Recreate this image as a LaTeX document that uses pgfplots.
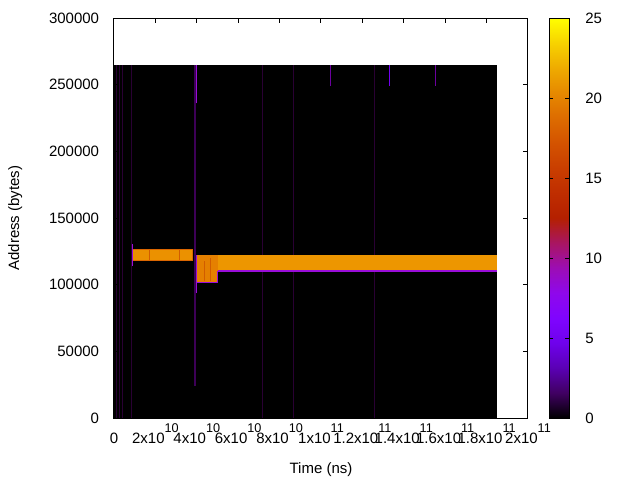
\documentclass[border=0pt]{standalone}
\usepackage{pgfplots}
\pgfplotsset{compat=1.18}
\usepackage{fontspec}
\setmainfont{Liberation Sans}
\pgfplotsset{
  /pgf/number format/assume math mode=true,
  colormap={gp}{
    rgb=(0,0,0) rgb=(0.25,0.0002,0.383) rgb=(0.354,0.002,0.707) rgb=(0.433,0.0066,0.924)
    rgb=(0.5,0.0156,1) rgb=(0.559,0.0305,0.924) rgb=(0.612,0.0527,0.707) rgb=(0.661,0.0837,0.383)
    rgb=(0.707,0.125,0) rgb=(0.75,0.178,0) rgb=(0.79,0.244,0) rgb=(0.829,0.325,0)
    rgb=(0.866,0.422,0) rgb=(0.901,0.536,0) rgb=(0.935,0.67,0) rgb=(0.968,0.824,0) rgb=(1,1,0)
  }
}
\definecolor{dimp}{rgb}{0.16,0,0.2}
\definecolor{midp}{rgb}{0.24,0,0.34}
\definecolor{topp}{rgb}{0.42,0,0.62}
\definecolor{brightp}{rgb}{0.6,0.05,0.85}
\definecolor{bluep}{rgb}{0.45,0,0.95}
\definecolor{bandA}{rgb}{0.92,0.57,0.0}
\definecolor{bandAedge}{rgb}{0.86,0.4,0.0}
\definecolor{bandB}{rgb}{0.93,0.59,0.0}
\definecolor{bandC}{rgb}{0.9,0.5,0.0}
\definecolor{stripe}{rgb}{0.82,0.36,0.0}
\newcommand{\rect}[5]{\addplot[fill=#5, draw=none] coordinates {(#1,#2) (#3,#2) (#3,#4) (#1,#4)} -- cycle;}
\newcommand{\vl}[5]{\addplot[color=#4, line width=#5] coordinates {(#1,#2) (#1,#3)};}
\newcommand{\hl}[5]{\addplot[color=#4, line width=#5] coordinates {(#2,#1) (#3,#1)};}
\newcommand{\xl}[2]{#1x10\raisebox{0.7em}{\fontsize{9.5}{9.5}\selectfont #2}}
\begin{document}
\fontsize{11.25}{13.5}\selectfont
\begin{tikzpicture}
\useasboundingbox (0,0) rectangle (480pt,360pt);
\fill[white] (0,0) rectangle (480pt,360pt);
\begin{axis}[
  at={(85.5pt,46.5pt)}, anchor=south west,
  scale only axis, width=310.5pt, height=300pt,
  xmin=0, xmax=2e11, ymin=0, ymax=300000,
  scaled x ticks=false, scaled y ticks=false,
  xtick={0,2e10,4e10,6e10,8e10,1e11,1.2e11,1.4e11,1.6e11,1.8e11,2e11},
  xticklabels={0,\xl{2}{10},\xl{4}{10},\xl{6}{10},\xl{8}{10},\xl{1}{11},\xl{1.2}{11},\xl{1.4}{11},\xl{1.6}{11},\xl{1.8}{11},\xl{2}{11}},
  ytick={0,50000,100000,150000,200000,250000,300000},
  yticklabels={0,50000,100000,150000,200000,250000,300000},
  tick align=inside, xtick pos=both, ytick pos=both,
  xticklabel pos=left, yticklabel pos=left,
  major tick length=3.5pt,
  axis line style={line width=0.75pt},
  tick style={line width=0.75pt, black},
  xticklabel style={anchor=base, inner sep=0pt, yshift=-18.75pt},
  yticklabel style={anchor=east, inner sep=0pt, xshift=-11pt},
  xlabel={Time (ns)}, ylabel={Address (bytes)},
  xlabel style={at={(axis description cs:0.5,-0.1375)}, anchor=base, inner sep=0pt},
  ylabel style={at={(axis description cs:-0.2290,0.5)}, anchor=base, rotate=0, inner sep=0pt},
  axis on top,
  colormap name=gp,
  point meta min=0, point meta max=25,
  colorbar,
  colorbar style={
    at={(parent axis.north east)}, anchor=north west, xshift=7.5pt,
    scale only axis, width=15pt, height=300pt,
    ytick={0,5,10,15,20,25},
    tick align=inside, ytick pos=both, yticklabel pos=right,
    major tick length=3pt,
    axis line style={line width=0.75pt},
    tick style={line width=0.75pt, black},
    yticklabel style={anchor=west, inner sep=0pt, xshift=11.75pt},
  },
]
% background
\rect{0}{0}{1.85e11}{264750}{black}
% dim vertical lines
\vl{1.3e9}{0}{264750}{dimp}{0.6pt}
\vl{2.6e9}{0}{264750}{dimp}{0.6pt}
\vl{4.2e9}{0}{264750}{dimp}{0.6pt}
\vl{8.2e9}{0}{264750}{dimp}{0.6pt}
\vl{3.92e10}{24000}{264750}{midp}{1.2pt}
\vl{7.16e10}{0}{264750}{dimp}{0.5pt}
\vl{8.66e10}{0}{264750}{dimp}{0.5pt}
\vl{1.257e11}{0}{264750}{dimp}{0.5pt}
\vl{1.048e11}{249000}{264750}{topp}{0.8pt}
\vl{1.329e11}{249000}{264750}{bluep}{0.8pt}
\vl{1.551e11}{249000}{264750}{topp}{0.8pt}
\vl{3.98e10}{236000}{264750}{brightp}{0.8pt}
% band 1
\rect{8.8e9}{117975}{3.83e10}{126750}{bandAedge}
\rect{9.3e9}{118700}{3.78e10}{126000}{bandA}
\vl{1.7e10}{118700}{126000}{stripe}{0.5pt}
\vl{3.15e10}{118700}{126000}{stripe}{0.5pt}
\vl{8.8e9}{114000}{130500}{brightp}{0.9pt}
% band 2
\rect{4.0e10}{110250}{1.85e11}{122250}{bandB}
\rect{4.0e10}{101750}{5.01e10}{122250}{bandC}
\vl{4.35e10}{102500}{118000}{stripe}{0.6pt}
\vl{4.65e10}{102500}{120000}{stripe}{0.6pt}
\hl{110250}{5.01e10}{1.85e11}{brightp}{0.8pt}
\hl{101750}{4.0e10}{5.01e10}{brightp}{0.8pt}
\vl{5.01e10}{101750}{110250}{brightp}{0.8pt}
\vl{4.0e10}{93750}{122250}{brightp}{0.9pt}
\end{axis}
\end{tikzpicture}
\end{document}
